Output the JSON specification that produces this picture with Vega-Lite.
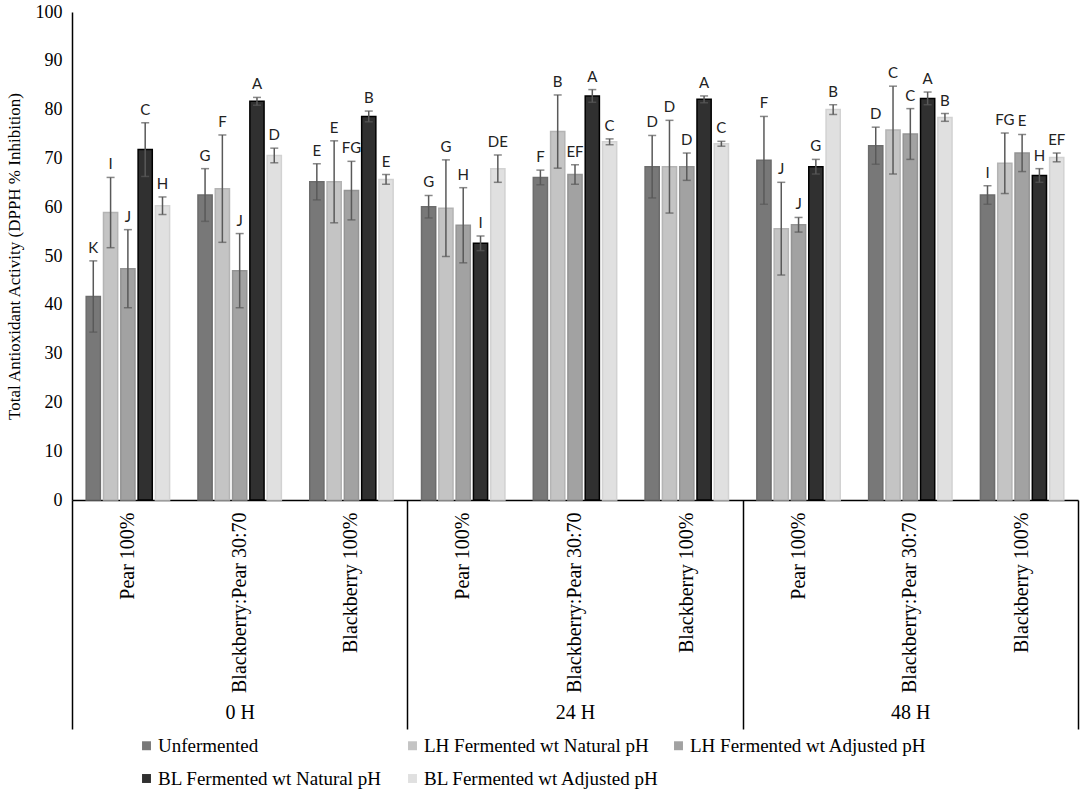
{
  "$schema": "https://vega.github.io/schema/vega-lite/v6.json",
  "width": 1006,
  "height": 488,
  "padding": {"left": 5, "top": 3, "right": 6, "bottom": 3},
  "background": "white",
  "config": {"view": {"stroke": null}, "font": "Liberation Serif"},
  "data": {
    "values": [
      {"t": "0 H", "s": "Pear 100%", "g": "Unfermented", "v": 41.7, "e": 7.3, "l": "K"},
      {"t": "0 H", "s": "Pear 100%", "g": "LH Fermented wt Natural pH", "v": 58.9, "e": 7.2, "l": "I"},
      {"t": "0 H", "s": "Pear 100%", "g": "LH Fermented wt Adjusted pH", "v": 47.4, "e": 8.0, "l": "J"},
      {"t": "0 H", "s": "Pear 100%", "g": "BL Fermented wt Natural pH", "v": 71.8, "e": 5.5, "l": "C"},
      {"t": "0 H", "s": "Pear 100%", "g": "BL Fermented wt Adjusted pH", "v": 60.3, "e": 1.8, "l": "H"},
      {"t": "0 H", "s": "Blackberry:Pear 30:70", "g": "Unfermented", "v": 62.5, "e": 5.4, "l": "G"},
      {"t": "0 H", "s": "Blackberry:Pear 30:70", "g": "LH Fermented wt Natural pH", "v": 63.8, "e": 11.0, "l": "F"},
      {"t": "0 H", "s": "Blackberry:Pear 30:70", "g": "LH Fermented wt Adjusted pH", "v": 47.0, "e": 7.6, "l": "J"},
      {"t": "0 H", "s": "Blackberry:Pear 30:70", "g": "BL Fermented wt Natural pH", "v": 81.7, "e": 0.8, "l": "A"},
      {"t": "0 H", "s": "Blackberry:Pear 30:70", "g": "BL Fermented wt Adjusted pH", "v": 70.6, "e": 1.5, "l": "D"},
      {"t": "0 H", "s": "Blackberry 100%", "g": "Unfermented", "v": 65.2, "e": 3.7, "l": "E"},
      {"t": "0 H", "s": "Blackberry 100%", "g": "LH Fermented wt Natural pH", "v": 65.2, "e": 8.4, "l": "E"},
      {"t": "0 H", "s": "Blackberry 100%", "g": "LH Fermented wt Adjusted pH", "v": 63.4, "e": 6.0, "l": "FG"},
      {"t": "0 H", "s": "Blackberry 100%", "g": "BL Fermented wt Natural pH", "v": 78.6, "e": 1.1, "l": "B"},
      {"t": "0 H", "s": "Blackberry 100%", "g": "BL Fermented wt Adjusted pH", "v": 65.7, "e": 1.0, "l": "E"},
      {"t": "24 H", "s": "Pear 100%", "g": "Unfermented", "v": 60.1, "e": 2.3, "l": "G"},
      {"t": "24 H", "s": "Pear 100%", "g": "LH Fermented wt Natural pH", "v": 59.8, "e": 9.9, "l": "G"},
      {"t": "24 H", "s": "Pear 100%", "g": "LH Fermented wt Adjusted pH", "v": 56.3, "e": 7.7, "l": "H"},
      {"t": "24 H", "s": "Pear 100%", "g": "BL Fermented wt Natural pH", "v": 52.6, "e": 1.5, "l": "I"},
      {"t": "24 H", "s": "Pear 100%", "g": "BL Fermented wt Adjusted pH", "v": 67.9, "e": 2.8, "l": "DE"},
      {"t": "24 H", "s": "Blackberry:Pear 30:70", "g": "Unfermented", "v": 66.1, "e": 1.5, "l": "F"},
      {"t": "24 H", "s": "Blackberry:Pear 30:70", "g": "LH Fermented wt Natural pH", "v": 75.5, "e": 7.5, "l": "B"},
      {"t": "24 H", "s": "Blackberry:Pear 30:70", "g": "LH Fermented wt Adjusted pH", "v": 66.7, "e": 2.0, "l": "EF"},
      {"t": "24 H", "s": "Blackberry:Pear 30:70", "g": "BL Fermented wt Natural pH", "v": 82.8, "e": 1.3, "l": "A"},
      {"t": "24 H", "s": "Blackberry:Pear 30:70", "g": "BL Fermented wt Adjusted pH", "v": 73.4, "e": 0.6, "l": "C"},
      {"t": "24 H", "s": "Blackberry 100%", "g": "Unfermented", "v": 68.3, "e": 6.4, "l": "D"},
      {"t": "24 H", "s": "Blackberry 100%", "g": "LH Fermented wt Natural pH", "v": 68.3, "e": 9.5, "l": "D"},
      {"t": "24 H", "s": "Blackberry 100%", "g": "LH Fermented wt Adjusted pH", "v": 68.3, "e": 2.8, "l": "D"},
      {"t": "24 H", "s": "Blackberry 100%", "g": "BL Fermented wt Natural pH", "v": 82.1, "e": 0.7, "l": "A"},
      {"t": "24 H", "s": "Blackberry 100%", "g": "BL Fermented wt Adjusted pH", "v": 73.0, "e": 0.5, "l": "C"},
      {"t": "48 H", "s": "Pear 100%", "g": "Unfermented", "v": 69.6, "e": 9.0, "l": "F"},
      {"t": "48 H", "s": "Pear 100%", "g": "LH Fermented wt Natural pH", "v": 55.6, "e": 9.5, "l": "J"},
      {"t": "48 H", "s": "Pear 100%", "g": "LH Fermented wt Adjusted pH", "v": 56.4, "e": 1.5, "l": "J"},
      {"t": "48 H", "s": "Pear 100%", "g": "BL Fermented wt Natural pH", "v": 68.3, "e": 1.5, "l": "G"},
      {"t": "48 H", "s": "Pear 100%", "g": "BL Fermented wt Adjusted pH", "v": 80.0, "e": 1.0, "l": "B"},
      {"t": "48 H", "s": "Blackberry:Pear 30:70", "g": "Unfermented", "v": 72.6, "e": 3.8, "l": "D"},
      {"t": "48 H", "s": "Blackberry:Pear 30:70", "g": "LH Fermented wt Natural pH", "v": 75.8, "e": 9.0, "l": "C"},
      {"t": "48 H", "s": "Blackberry:Pear 30:70", "g": "LH Fermented wt Adjusted pH", "v": 75.0, "e": 5.2, "l": "C"},
      {"t": "48 H", "s": "Blackberry:Pear 30:70", "g": "BL Fermented wt Natural pH", "v": 82.3, "e": 1.3, "l": "A"},
      {"t": "48 H", "s": "Blackberry:Pear 30:70", "g": "BL Fermented wt Adjusted pH", "v": 78.4, "e": 0.8, "l": "B"},
      {"t": "48 H", "s": "Blackberry 100%", "g": "Unfermented", "v": 62.5, "e": 1.9, "l": "I"},
      {"t": "48 H", "s": "Blackberry 100%", "g": "LH Fermented wt Natural pH", "v": 69.0, "e": 6.2, "l": "FG"},
      {"t": "48 H", "s": "Blackberry 100%", "g": "LH Fermented wt Adjusted pH", "v": 71.1, "e": 3.8, "l": "E"},
      {"t": "48 H", "s": "Blackberry 100%", "g": "BL Fermented wt Natural pH", "v": 66.5, "e": 1.4, "l": "H"},
      {"t": "48 H", "s": "Blackberry 100%", "g": "BL Fermented wt Adjusted pH", "v": 70.2, "e": 0.9, "l": "EF"}
    ]
  },
  "transform": [
    {"calculate": "datum.t + '|' + datum.s", "as": "k"},
    {"calculate": "datum.v - datum.e", "as": "lo"},
    {"calculate": "datum.v + datum.e", "as": "hi"}
  ],
  "layer": [
    {
      "encoding": {
        "x": {
          "field": "k",
          "type": "nominal",
          "sort": null,
          "scale": {"paddingInner": 0, "paddingOuter": 0},
          "axis": {
            "title": null,
            "labelExpr": "split(datum.label, '|')[1]",
            "labelAngle": -90,
            "labelFont": "Liberation Serif",
            "labelFontSize": 20,
            "labelColor": "#000",
            "labelPadding": 12,
            "labelLimit": 0,
            "ticks": false,
            "domainColor": "#000",
            "domainWidth": 1.5
          }
        },
        "xOffset": {
          "field": "g",
          "type": "nominal",
          "sort": ["Unfermented", "LH Fermented wt Natural pH", "LH Fermented wt Adjusted pH", "BL Fermented wt Natural pH", "BL Fermented wt Adjusted pH"],
          "scale": {"paddingInner": 0.18, "paddingOuter": 0.82}
        }
      },
      "layer": [
        {
          "mark": {"type": "bar", "strokeWidth": 1.5},
          "encoding": {
            "y": {
              "field": "v",
              "type": "quantitative",
              "scale": {"domain": [0, 100]},
              "axis": {
                "title": "Total Antioxidant Activity (DPPH % Inhibition)",
                "titleFont": "Liberation Serif",
                "titleFontSize": 17,
                "titleFontWeight": "normal",
                "titleColor": "#000",
                "titlePadding": 12,
                "values": [0, 10, 20, 30, 40, 50, 60, 70, 80, 90, 100],
                "ticks": false,
                "grid": false,
                "labelFont": "Liberation Serif",
                "labelFontSize": 18,
                "labelColor": "#000",
                "labelPadding": 10,
                "domainColor": "#000",
                "domainWidth": 1.5
              }
            },
            "color": {
              "field": "g",
              "type": "nominal",
              "sort": ["Unfermented", "LH Fermented wt Natural pH", "LH Fermented wt Adjusted pH", "BL Fermented wt Natural pH", "BL Fermented wt Adjusted pH"],
              "scale": {"range": ["#787878", "#c4c4c4", "#a2a2a2", "#303030", "#e0e0e0"]},
              "legend": {
                "title": null,
                "orient": "none",
                "direction": "horizontal",
                "legendX": 65,
                "legendY": 724,
                "padding": 0,
                "columns": 3,
                "gridAlign": "all",
                "symbolType": "square",
                "symbolSize": 80,
                "symbolStrokeWidth": 0,
                "labelFont": "Liberation Serif",
                "labelFontSize": 19,
                "labelColor": "#000",
                "labelLimit": 0,
                "labelOffset": 2,
                "columnPadding": 8,
                "rowPadding": 13
              }
            },
            "stroke": {
              "field": "g",
              "type": "nominal",
              "sort": ["Unfermented", "LH Fermented wt Natural pH", "LH Fermented wt Adjusted pH", "BL Fermented wt Natural pH", "BL Fermented wt Adjusted pH"],
              "scale": {"range": ["#6c6c6c", "#b4b4b4", "#949494", "#000000", "#d2d2d2"]},
              "legend": null
            }
          }
        },
        {
          "mark": {"type": "rule", "color": "#595959", "strokeWidth": 1.5},
          "encoding": {
            "y": {"field": "lo", "type": "quantitative"},
            "y2": {"field": "hi"}
          }
        },
        {
          "mark": {"type": "tick", "color": "#595959", "thickness": 1.5, "size": 8},
          "encoding": {"y": {"field": "lo", "type": "quantitative"}}
        },
        {
          "mark": {"type": "tick", "color": "#595959", "thickness": 1.5, "size": 8},
          "encoding": {"y": {"field": "hi", "type": "quantitative"}}
        },
        {
          "mark": {"type": "text", "font": "Lato", "fontSize": 15, "baseline": "bottom", "dy": -5, "color": "#222"},
          "encoding": {
            "y": {"field": "hi", "type": "quantitative"},
            "text": {"field": "l"}
          }
        }
      ]
    },
    {
      "mark": {"type": "point", "opacity": 0},
      "encoding": {
        "x": {
          "field": "t",
          "type": "nominal",
          "sort": null,
          "scale": {"paddingInner": 0, "paddingOuter": 0},
          "axis": {
            "orient": "bottom",
            "title": null,
            "tickBand": "extent",
            "tickSize": 229,
            "tickColor": "#000",
            "tickWidth": 1.5,
            "domain": false,
            "labelAngle": 0,
            "labelPadding": -27,
            "labelFont": "Liberation Serif",
            "labelFontSize": 20,
            "labelColor": "#000"
          }
        }
      }
    }
  ],
  "resolve": {"scale": {"x": "independent"}, "axis": {"x": "independent"}}
}
